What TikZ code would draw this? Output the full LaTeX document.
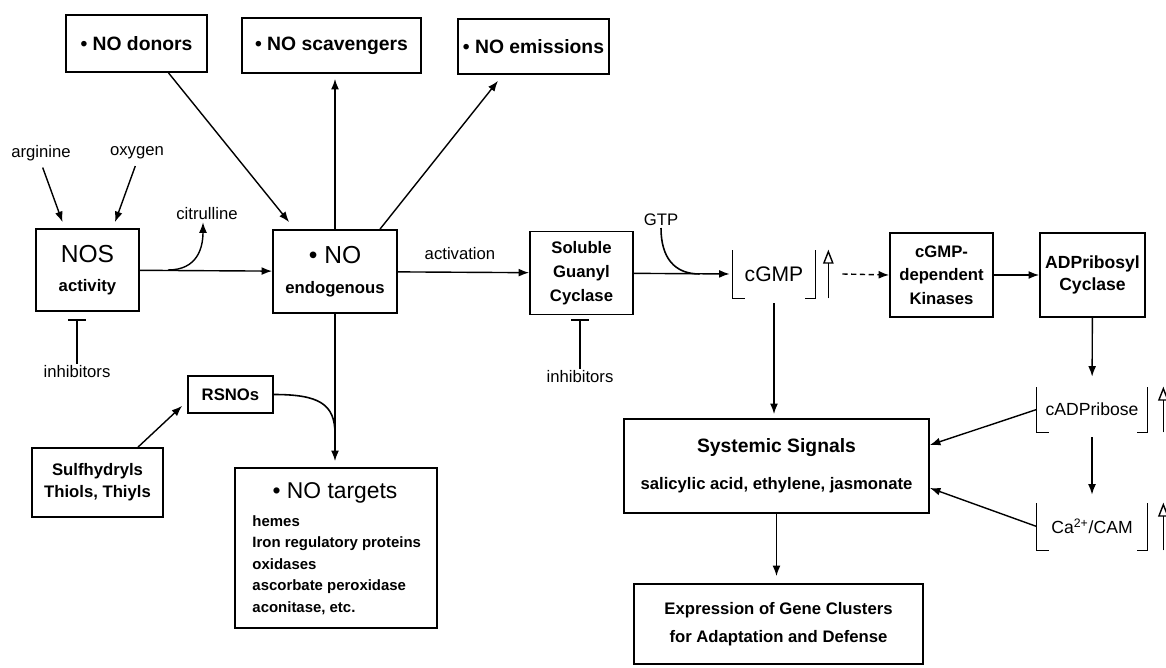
\documentclass[tikz,border=0pt]{standalone}
\usepackage{fontspec}
\setmainfont{Liberation Sans}
\usetikzlibrary{arrows.meta}
\begin{document}
\begin{tikzpicture}[x=0.02cm, y=-0.02cm,
  box/.style={draw, line width=1pt, align=center, inner sep=0pt,
    font=\bfseries\fontsize{9.5}{13.5}\selectfont},
  lab/.style={inner sep=1pt, font=\fontsize{9.5}{11}\selectfont},
  conc/.style={inner sep=0pt, font=\fontsize{11}{13}\selectfont},
  arr/.style={line width=0.8pt, -{Latex[length=6pt,width=4.5pt]}},
  ln/.style={line width=0.9pt},
  inh/.style={line width=0.8pt, -{Bar[width=10pt,line width=1pt]}},
  rise/.style={line width=0.8pt, -{Triangle[open,length=8pt,width=6pt,line width=0.8pt]}}]
  \useasboundingbox (0,0) rectangle (1166,668);

  \node[box, font=\bfseries\fontsize{11}{13}\selectfont, minimum width=2.82cm, minimum height=1.14cm] (donors) at (136.5,43.5) {• NO donors};
  \node[box, font=\bfseries\fontsize{11}{13}\selectfont, minimum width=3.58cm, minimum height=1.1cm] (scav) at (331.5,45.5) {• NO scavengers};
  \node[box, font=\bfseries\fontsize{11}{13}\selectfont, minimum width=3.02cm, minimum height=1.1cm] (emis) at (533.5,46.5) {• NO emissions};

  \node[lab] (arg) at (41,153) {arginine};
  \node[lab] (oxy) at (137,153) {oxygen};
  \node[lab] (cit) at (207,214) {citrulline};
  \node[box, minimum width=2.06cm, minimum height=1.64cm] (nos) at (87.5,270) {{\mdseries\fontsize{14}{14}\selectfont NOS}\\[3pt]activity};
  \node[box, minimum width=2.48cm, minimum height=1.66cm] (no) at (335,271.5) {{\mdseries\fontsize{14}{14}\selectfont • NO}\\[3.5pt]endogenous};
  \node[lab] (act) at (460,254) {activation};
  \node[box, minimum width=2.06cm, minimum height=1.66cm] (sgc) at (581.5,273) {Soluble\\Guanyl\\Cyclase};
  \node[lab] (inh1) at (77,372) {inhibitors};
  \node[lab] (inh2) at (580,377) {inhibitors};
  \node[lab] (gtp) at (661,220) {GTP};
  \node[conc, font=\fontsize{12}{13}\selectfont, minimum width=1.64cm, minimum height=0.96cm] (cgmp) at (774,274) {cGMP};
  \node[box, minimum width=2.06cm, minimum height=1.68cm] (kin) at (941.5,275) {cGMP-\\dependent\\Kinases};
  \node[box, font=\bfseries\fontsize{10}{12.5}\selectfont, minimum width=2.1cm, minimum height=1.68cm] (adp) at (1092.5,275) {ADPribosyl\\Cyclase};
  \node[conc, font=\fontsize{10}{12}\selectfont, minimum width=2.2cm, minimum height=0.9cm] (cadp) at (1092,409.5) {cADPribose};
  \node[conc, font=\fontsize{10}{12}\selectfont, minimum width=2.2cm, minimum height=0.94cm] (ca) at (1092,526.5) {Ca\textsuperscript{2+}/CAM};
  \node[box, minimum width=6.1cm, minimum height=1.88cm] (sys) at (776.5,466) {{\fontsize{11}{13}\selectfont Systemic Signals}\\[7.5pt]salicylic acid, ethylene, jasmonate};
  \node[box, font=\bfseries\fontsize{9.5}{16}\selectfont, minimum width=5.78cm, minimum height=1.6cm] (expr) at (778.5,624) {Expression of Gene Clusters\\for Adaptation and Defense};
  \node[box, minimum width=1.7cm, minimum height=0.74cm] (rsno) at (230.5,394.5) {RSNOs};
  \node[box, font=\bfseries\fontsize{9.5}{12.5}\selectfont, minimum width=2.62cm, minimum height=1.38cm] (sulf) at (97.5,482.5) {Sulfhydryls\\Thiols, Thiyls};
  \node[box, minimum width=4.04cm, minimum height=3.2cm] (targ) at (336,548) {};
  \node[conc, font=\fontsize{13}{15}\selectfont] (targt) at (335,493) {• NO targets};
  \node[inner sep=0pt, anchor=north west, align=left, font=\bfseries\fontsize{8.5}{12.2}\selectfont] (targl) at ([xshift=0.36cm,yshift=-0.96cm]targ.north west) {hemes\\Iron regulatory proteins\\oxidases\\ascorbate peroxidase\\aconitase, etc.};

  \draw[arr] ([xshift=0.64cm]donors.south) -- ([xshift=0.34cm,yshift=0.14cm]no.north west);
  \draw[arr, shorten >=0.1cm] (no.north) -- (no.north |- scav.south);
  \draw[arr] ([xshift=0.9cm]no.north) -- ([xshift=-0.71cm,yshift=-0.12cm]emis.south);
  \draw[arr, shorten <=0.1cm] (arg.south) -- ([xshift=-0.5cm,yshift=0.12cm]nos.north);
  \draw[arr, shorten <=0.1cm] (oxy.south) -- ([xshift=0.55cm,yshift=0.12cm]nos.north);
  \draw[arr] (nos) -- (no);
  \draw[arr] ([xshift=0.56cm]nos.east) .. controls +(30,0) and +(0,25) .. ([xshift=-0.08cm]cit.south);
  \draw[inh, shorten >=0.14cm] (inh1.north) -- (inh1.north |- nos.south);
  \draw[arr] (no) -- (sgc);
  \draw[inh, shorten >=0.08cm] (inh2.north) -- (inh2.north |- sgc.south);
  \draw[arr, shorten >=0.06cm] (sgc) -- (cgmp.west);
  \coordinate (gtpin) at ([xshift=-0.66cm]cgmp.west);
  \draw[ln] (gtp.south) .. controls +(0,30) and +(-25,0) .. (gtpin);

  \foreach \n/\s in {cgmp/0.26cm, cadp/0.32cm, ca/0.32cm} {
    \draw[ln] ([xshift=0.24cm]\n.south west) -- (\n.south west) -- (\n.north west);
    \draw[ln] ([xshift=-0.2cm]\n.south east) -- (\n.south east) -- (\n.north east);
    \draw[rise] ([xshift=\s]\n.south east) -- ([xshift=\s]\n.north east);
  }

  \draw[arr, densely dashed] ([xshift=0.54cm]cgmp.east) -- (kin.west);
  \draw[arr] (kin) -- (adp);
  \draw[arr, shorten >=0.2cm] (adp) -- (cadp);
  \draw[arr, shorten <=0.1cm, shorten >=0.16cm] (cadp) -- (ca);
  \draw[arr, shorten >=0.08cm] ([yshift=-0.1cm]cgmp.south) -- (cgmp.south |- sys.north);
  \draw[arr] (cadp.west) -- ([yshift=0.42cm]sys.east);
  \draw[arr] (ca.west) -- ([yshift=-0.44cm]sys.east);
  \draw[arr, shorten >=0.14cm] (sys.south) -- (sys.south |- expr.north);

  \draw[arr] ([xshift=0.81cm]sulf.north) -- ([xshift=-0.1cm,yshift=0.16cm]rsno.south west);
  \draw[arr, shorten >=0.12cm] (no.south) -- (no.south |- targ.north);
  \coordinate (join) at ([yshift=-0.4cm]no.south |- rsno.south);
  \draw[ln] (rsno.east) .. controls +(45,0) and +(0,-30) .. (join);
\end{tikzpicture}
\end{document}
